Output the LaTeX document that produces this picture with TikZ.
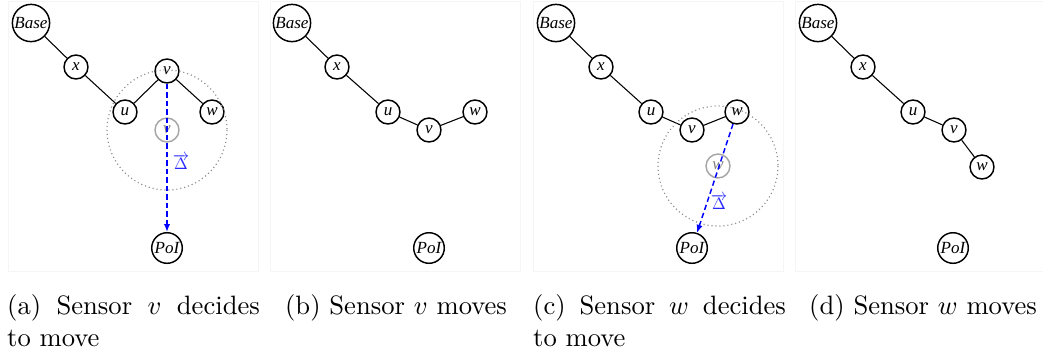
\documentclass[tikz,border=0pt]{standalone}
\usepackage{fontspec}
\newfontfamily\sensorfont{Liberation Serif}
\usetikzlibrary{arrows.meta}
\tikzset{
  sensor/.style={circle, draw, line width=0.55pt, inner sep=0pt, minimum size=9pt,
    font=\sensorfont\fontsize{6.4}{7}\selectfont\itshape},
  basesensor/.style={sensor, minimum size=14pt},
  poi/.style={sensor, minimum size=11.5pt},
  ghost/.style={sensor, draw=black!35, text=black!50},
  link/.style={line width=0.4pt},
  reach/.style={draw=black!45, line width=0.45pt, dash pattern=on 0.4pt off 1.1pt},
  move/.style={blue, line width=0.55pt, dash pattern=on 2pt off 1.2pt,
    -{Latex[length=3pt,width=2.4pt]}},
  delta/.style={text=blue!85, inner sep=0pt, scale=0.62, font=\normalsize},
  panel/.style={draw=black!4, line width=0.3pt},
  capt/.style={anchor=north, inner sep=0pt, font=\fontsize{10}{12}\selectfont}
}
\begin{document}
\begin{tikzpicture}[x=0.376pt, y=-0.376pt]
  \useasboundingbox (0,0) rectangle (1043,356);
  % panel frames
  \draw[panel] (8,1) rectangle (258,271);
  \draw[panel] (270,1) rectangle (520,271);
  \draw[panel] (533,1) rectangle (783,271);
  \draw[panel] (795,1) rectangle (1045,271);

  % (a) sensor v decides to move
  \draw
    (31,23) node[basesensor] (a-base){Base}
    (76,67) node[sensor] (a-x){x}
    (125,112) node[sensor] (a-u){u}
    (167,71) node[sensor] (a-v){v}
    (212,112) node[sensor] (a-w){w}
    (167,130) node[ghost] (a-vg){v}
    (167,248) node[poi] (a-poi){PoI};
  \begin{scope}[link]
    \draw (a-base) to (a-x);
    \draw (a-x) to (a-u);
    \draw (a-u) to (a-v);
    \draw (a-v) to (a-w);
  \end{scope}
  \draw[reach] (a-vg) circle (60);
  \draw[move] (a-v) -- (a-poi);
  \node[delta] (a-delta) at (181,162) {$\overrightarrow{\Delta}$};
  \node[capt, text width=95pt, align=justify] (a-cap) at (133.5,294)
    {(a) Sensor $v$ decides\linebreak to move};

  % (b) sensor v moves
  \draw
    (292,23) node[basesensor] (b-base){Base}
    (337,67) node[sensor] (b-x){x}
    (388,112) node[sensor] (b-u){u}
    (429,130) node[sensor] (b-v){v}
    (475,112) node[sensor] (b-w){w}
    (429,248) node[poi] (b-poi){PoI};
  \begin{scope}[link]
    \draw (b-base) to (b-x);
    \draw (b-x) to (b-u);
    \draw (b-u) to (b-v);
    \draw (b-v) to (b-w);
  \end{scope}
  \node[capt] (b-cap) at (396,294) {(b) Sensor $v$ moves};

  % (c) sensor w decides to move
  \draw
    (556,23) node[basesensor] (c-base){Base}
    (601,67) node[sensor] (c-x){x}
    (651,112) node[sensor] (c-u){u}
    (692,130) node[sensor] (c-v){v}
    (737,112) node[sensor] (c-w){w}
    (718,166) node[ghost] (c-wg){w}
    (692,248) node[poi] (c-poi){PoI};
  \begin{scope}[link]
    \draw (c-base) to (c-x);
    \draw (c-x) to (c-u);
    \draw (c-u) to (c-v);
    \draw (c-v) to (c-w);
  \end{scope}
  \draw[reach] (c-wg) circle (60);
  \draw[move] (c-w) -- (c-poi);
  \node[delta] (c-delta) at (719,202) {$\overrightarrow{\Delta}$};
  \node[capt, text width=95pt, align=justify] (c-cap) at (659.5,294)
    {(c) Sensor $w$ decides\linebreak to move};

  % (d) sensor w moves
  \draw
    (818,23) node[basesensor] (d-base){Base}
    (863,67) node[sensor] (d-x){x}
    (913,112) node[sensor] (d-u){u}
    (954,130) node[sensor] (d-v){v}
    (982,167) node[sensor] (d-w){w}
    (953,248) node[poi] (d-poi){PoI};
  \begin{scope}[link]
    \draw (d-base) to (d-x);
    \draw (d-x) to (d-u);
    \draw (d-u) to (d-v);
    \draw (d-v) to (d-w);
  \end{scope}
  \node[capt] (d-cap) at (923,294) {(d) Sensor $w$ moves};
\end{tikzpicture}
\end{document}
